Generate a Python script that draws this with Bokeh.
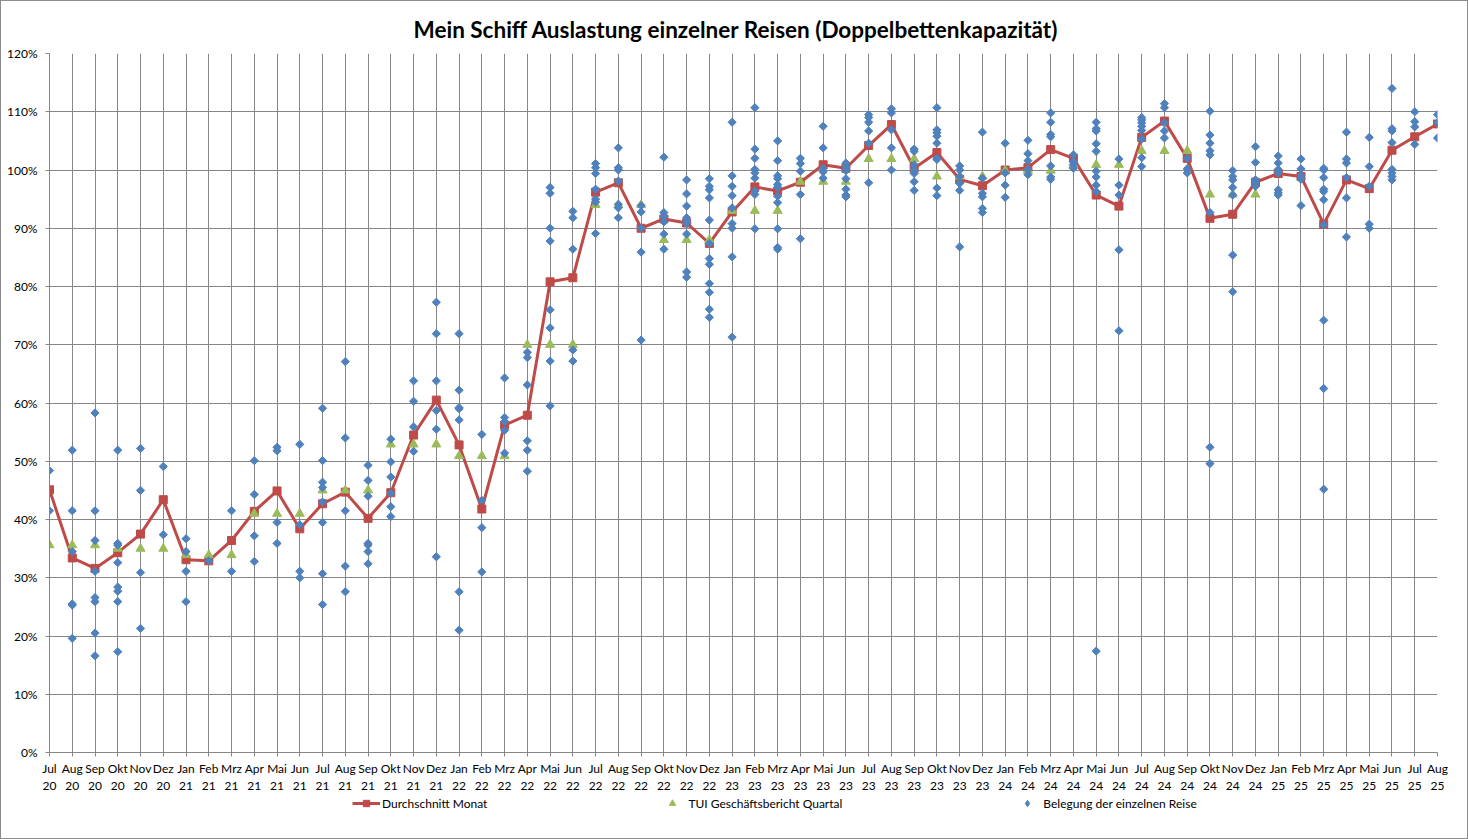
from bokeh.plotting import figure
from bokeh.layouts import column
from bokeh.models import Range1d, FixedTicker, PrintfTickFormatter, Legend, LegendItem
from bokeh.embed import file_html
from bokeh.resources import INLINE

# ---------------- data ----------------
tick_months = ["Jul", "Aug", "Sep", "Okt", "Nov", "Dez",
               "Jan", "Feb", "Mrz", "Apr", "Mai", "Jun", "Jul", "Aug", "Sep", "Okt", "Nov", "Dez",
               "Jan", "Feb", "Mrz", "Apr", "Mai", "Jun", "Jul", "Aug", "Sep", "Okt", "Nov", "Dez",
               "Jan", "Feb", "Mrz", "Apr", "Mai", "Jun", "Jul", "Aug", "Sep", "Okt", "Nov", "Dez",
               "Jan", "Feb", "Mrz", "Apr", "Mai", "Jun", "Jul", "Aug", "Sep", "Okt", "Nov", "Dez",
               "Jan", "Feb", "Mrz", "Apr", "Mai", "Jun", "Jul", "Aug"]
tick_years = ["20"] * 6 + ["21"] * 12 + ["22"] * 12 + ["23"] * 12 + ["24"] * 12 + ["25"] * 8

# monthly average (Durchschnitt Monat), %
avg_month = [45.1, 33.4, 31.6, 34.3, 37.5, 43.4,
             33.1, 32.9, 36.4, 41.4, 44.9, 38.4, 42.7, 44.7, 40.2, 44.6, 54.5, 60.5,
             52.8, 41.8, 56.2, 57.9, 80.8, 81.5, 96.2, 97.8, 90.0, 91.6, 90.9, 87.4,
             92.8, 97.1, 96.4, 97.9, 100.9, 100.3, 104.2, 107.8, 100.3, 103.0, 98.4, 97.3,
             100.0, 100.4, 103.5, 102.0, 95.7, 93.8, 105.6, 108.4, 102.0, 91.7, 92.4, 97.9,
             99.4, 98.9, 90.7, 98.3, 96.8, 103.4, 105.7, 107.9]

# TUI quarterly report (TUI Geschäftsbericht Quartal), %; None = no value
tui_quarter = [35.6, 35.6, 35.6, 35.0, 35.0, 35.0,
               33.9, 33.9, 33.9, 41.0, 41.0, 41.0, 45.0, 45.0, 45.0, 52.9, 52.9, 52.9,
               50.9, 50.9, 50.9, 70.0, 70.0, 70.0, 94.0, 94.0, 94.0, 88.0, 88.0, 88.0,
               93.0, 93.0, 93.0, 98.0, 98.0, 98.0, 101.9, 101.9, 101.9, 98.9, 98.9, 98.9,
               99.9, 99.9, 99.9, 100.9, 100.9, 100.9, 103.3, 103.3, 103.3, 95.8, 95.8, 95.8,
               None, None, None, None, None, None, None, None]

# occupancy of the individual cruises (Belegung der einzelnen Reise), %
trips = [
    [48.4, 41.5],
    [51.9, 41.5, 34.5, 25.5, 25.3, 19.6],
    [58.3, 41.5, 36.4, 31.1, 26.6, 25.9, 20.5, 16.6],
    [51.9, 35.9, 35.6, 32.6, 28.4, 27.7, 25.9, 17.3],
    [52.2, 45.0, 30.9, 21.3],
    [49.1, 37.4],
    [36.7, 34.5, 31.1, 25.9],
    [32.9],
    [41.5, 31.1],
    [50.1, 44.3, 37.2, 32.8],
    [52.4, 51.8, 39.5, 35.9],
    [52.9, 39.1, 31.1, 30.0],
    [59.1, 50.1, 46.4, 45.5, 43.0, 39.5, 30.7, 25.4],
    [67.1, 54.0, 41.5, 32.0, 27.6],
    [49.3, 46.7, 44.0, 35.9, 35.6, 34.5, 32.4],
    [53.8, 49.9, 47.3, 44.5, 42.2, 40.5],
    [63.8, 60.3, 55.9, 51.7],
    [77.3, 71.9, 63.8, 58.7, 55.5, 33.6],
    [71.9, 62.2, 59.2, 59.0, 57.1, 27.6, 21.0],
    [54.6, 43.3, 38.6, 31.0],
    [64.3, 57.5, 56.8, 55.3, 51.4],
    [68.7, 67.8, 63.1, 53.5, 51.9, 48.3],
    [97.0, 96.0, 90.0, 87.8, 76.0, 72.9, 67.2, 59.5],
    [92.9, 91.8, 86.4, 69.1, 67.2],
    [101.1, 100.4, 99.4, 96.7, 95.0, 94.5, 89.1],
    [103.8, 100.4, 100.0, 98.1, 94.1, 93.5, 91.8],
    [93.9, 92.8, 90.0, 85.9, 70.8],
    [102.2, 92.7, 92.0, 91.1, 89.0, 86.4],
    [98.3, 95.9, 93.8, 91.8, 91.2, 90.8, 89.0, 82.5, 81.6],
    [98.5, 97.2, 96.6, 95.2, 91.4, 87.4, 84.8, 83.8, 80.5, 79.0, 76.1, 74.7],
    [108.2, 99.0, 97.2, 95.6, 93.5, 90.8, 90.0, 85.1, 71.3],
    [110.7, 103.6, 102.0, 100.1, 99.5, 98.6, 96.4, 95.8, 89.9],
    [105.0, 101.6, 99.0, 98.5, 97.5, 97.0, 95.5, 94.4, 89.9, 86.7, 86.4],
    [102.0, 101.1, 99.8, 95.8, 88.2],
    [107.5, 103.8, 100.3, 99.7, 98.6],
    [101.2, 100.5, 99.9, 98.5, 96.7, 95.7, 95.4],
    [109.5, 109.0, 108.2, 106.7, 104.6, 97.8],
    [110.5, 109.8, 106.9, 103.8, 100.0],
    [103.6, 103.2, 100.9, 100.0, 99.4, 98.0, 96.5],
    [110.7, 106.9, 106.4, 105.8, 104.6, 102.0, 101.8, 96.9, 95.6],
    [100.7, 100.0, 98.9, 97.7, 96.5, 86.8],
    [106.5, 98.6, 96.0, 95.4, 93.4, 92.7],
    [104.6, 99.5, 97.4, 95.3],
    [105.1, 102.8, 101.6, 100.1, 99.2],
    [109.8, 108.2, 106.1, 105.7, 100.7, 98.8, 98.4],
    [102.6, 101.5, 100.9, 100.3],
    [108.2, 107.1, 106.7, 104.5, 103.2, 99.8, 98.8, 97.4, 96.3, 17.4],
    [101.9, 97.4, 95.7, 86.3, 72.4],
    [109.0, 108.6, 108.1, 107.5, 106.8, 105.3, 102.1, 100.6],
    [111.4, 110.7, 108.1, 106.7, 105.5],
    [102.0, 100.2, 99.5],
    [110.1, 106.0, 104.6, 103.3, 102.6, 92.7, 52.4, 49.6],
    [99.9, 98.9, 98.3, 97.0, 95.7, 85.4, 79.1],
    [104.0, 101.3, 98.3, 97.8, 97.2],
    [102.4, 101.2, 100.1, 99.5, 96.6, 96.1, 95.7],
    [101.9, 100.2, 99.0, 98.4, 93.9],
    [100.3, 100.0, 98.7, 96.7, 96.3, 94.9, 90.6, 74.2, 62.5, 45.2],
    [106.5, 101.9, 101.2, 98.7, 95.2, 88.5],
    [105.6, 100.6, 97.2, 90.7, 90.0],
    [114.0, 107.1, 106.7, 104.7, 100.1, 99.5, 98.9, 98.3],
    [110.0, 108.3, 107.4, 104.4],
    [109.5, 108.1, 105.5],
]

y_ticks = [0, 10, 20, 30, 40, 50, 60, 70, 80, 90, 100, 110, 120]

# ---------------- derived ----------------
idx = list(range(len(tick_months)))
trip_x = [i for i, vals in zip(idx, trips) for _ in vals]
trip_y = [v for vals in trips for v in vals]
tui_x = [i for i, v in zip(idx, tui_quarter) if v is not None]
tui_y = [v for v in tui_quarter if v is not None]

RED = "#BE4B48"
GREEN = "#9BBB59"
BLUE = "#4F81BD"
GRID = "#868686"
FONT = "Lato"
W = 1466

p = figure(width=W, height=794, output_backend="svg", toolbar_location=None,
           x_range=Range1d(0, len(idx) - 1), y_range=Range1d(0, 120),
           min_border_left=48, min_border_right=30, min_border_top=52, min_border_bottom=42,
           background_fill_color="white", border_fill_color="white")
p.outline_line_color = None

p.title.text = "Mein Schiff Auslastung einzelner Reisen (Doppelbettenkapazität)"
p.title.align = "left"
p.title.offset = 364
p.title.text_font = FONT
p.title.text_font_size = "22.5px"
p.title.text_font_style = "bold"
p.title.text_color = "black"
p.title.standoff = 22

# grids
p.xgrid.ticker = FixedTicker(ticks=idx)
p.ygrid.ticker = FixedTicker(ticks=y_ticks)
for g in (p.xgrid, p.ygrid):
    g.grid_line_color = GRID
    g.grid_line_width = 1

# axes
p.xaxis.ticker = FixedTicker(ticks=idx)
p.xaxis.major_label_overrides = {i: f"{m}\n{y}" for i, m, y in zip(idx, tick_months, tick_years)}
p.yaxis.ticker = FixedTicker(ticks=y_ticks)
p.yaxis.formatter = PrintfTickFormatter(format="%d%%")
for ax in (p.xaxis, p.yaxis):
    ax.axis_line_color = GRID
    ax.major_tick_line_color = GRID
    ax.major_tick_in = 0
    ax.major_tick_out = 4
    ax.minor_tick_line_color = None
    ax.major_label_text_font = FONT
    ax.major_label_text_font_size = "12px"
    ax.major_label_text_color = "black"
p.xaxis.major_label_standoff = 4
p.xaxis.major_label_text_line_height = 1.15
p.yaxis.major_label_standoff = 8

# series
p.line(idx, avg_month, line_color=RED, line_width=3)
p.scatter(idx, avg_month, marker="square", size=8, fill_color=RED, line_color=RED)
p.scatter(tui_x, tui_y, marker="triangle", size=9, fill_color=GREEN, line_color=GREEN)
p.scatter(trip_x, trip_y, marker="square", angle=0.785398, size=5.8,
          fill_color=BLUE, line_color=BLUE)

# legend strip below the chart; its keys are hidden copies of the series
lf = figure(width=W, height=43, output_backend="svg", toolbar_location=None,
            x_range=Range1d(0, 1), y_range=Range1d(0, 1), min_border=0,
            x_axis_location=None, y_axis_location=None,
            background_fill_color="white", border_fill_color="white")
lf.outline_line_color = None
lf.xgrid.visible = False
lf.ygrid.visible = False
k_line = lf.line(idx, avg_month, line_color=RED, line_width=3, visible=False)
k_sq = lf.scatter(idx, avg_month, marker="square", fill_color=RED, line_color=RED, visible=False)
k_tri = lf.scatter(tui_x, tui_y, marker="triangle", fill_color=GREEN, line_color=GREEN, visible=False)
k_dia = lf.scatter(trip_x, trip_y, marker="diamond", fill_color=BLUE, line_color=BLUE, visible=False)

legend = Legend(items=[LegendItem(label="Durchschnitt Monat", renderers=[k_line, k_sq]),
                       LegendItem(label="TUI Geschäftsbericht Quartal", renderers=[k_tri]),
                       LegendItem(label="Belegung der einzelnen Reise", renderers=[k_dia])],
                location=(303, 27), orientation="horizontal", glyph_width=28, glyph_height=16,
                label_standoff=2, spacing=171, padding=0, margin=0,
                border_line_color=None, background_fill_alpha=0, inactive_fill_alpha=0,
                label_text_font=FONT, label_text_font_size="12px", label_text_color="black")
lf.add_layout(legend)

layout = column(p, lf, spacing=0, styles={"border": "1px solid #8c8c8c"})

open("out.html", "w").write(file_html(layout, INLINE))
